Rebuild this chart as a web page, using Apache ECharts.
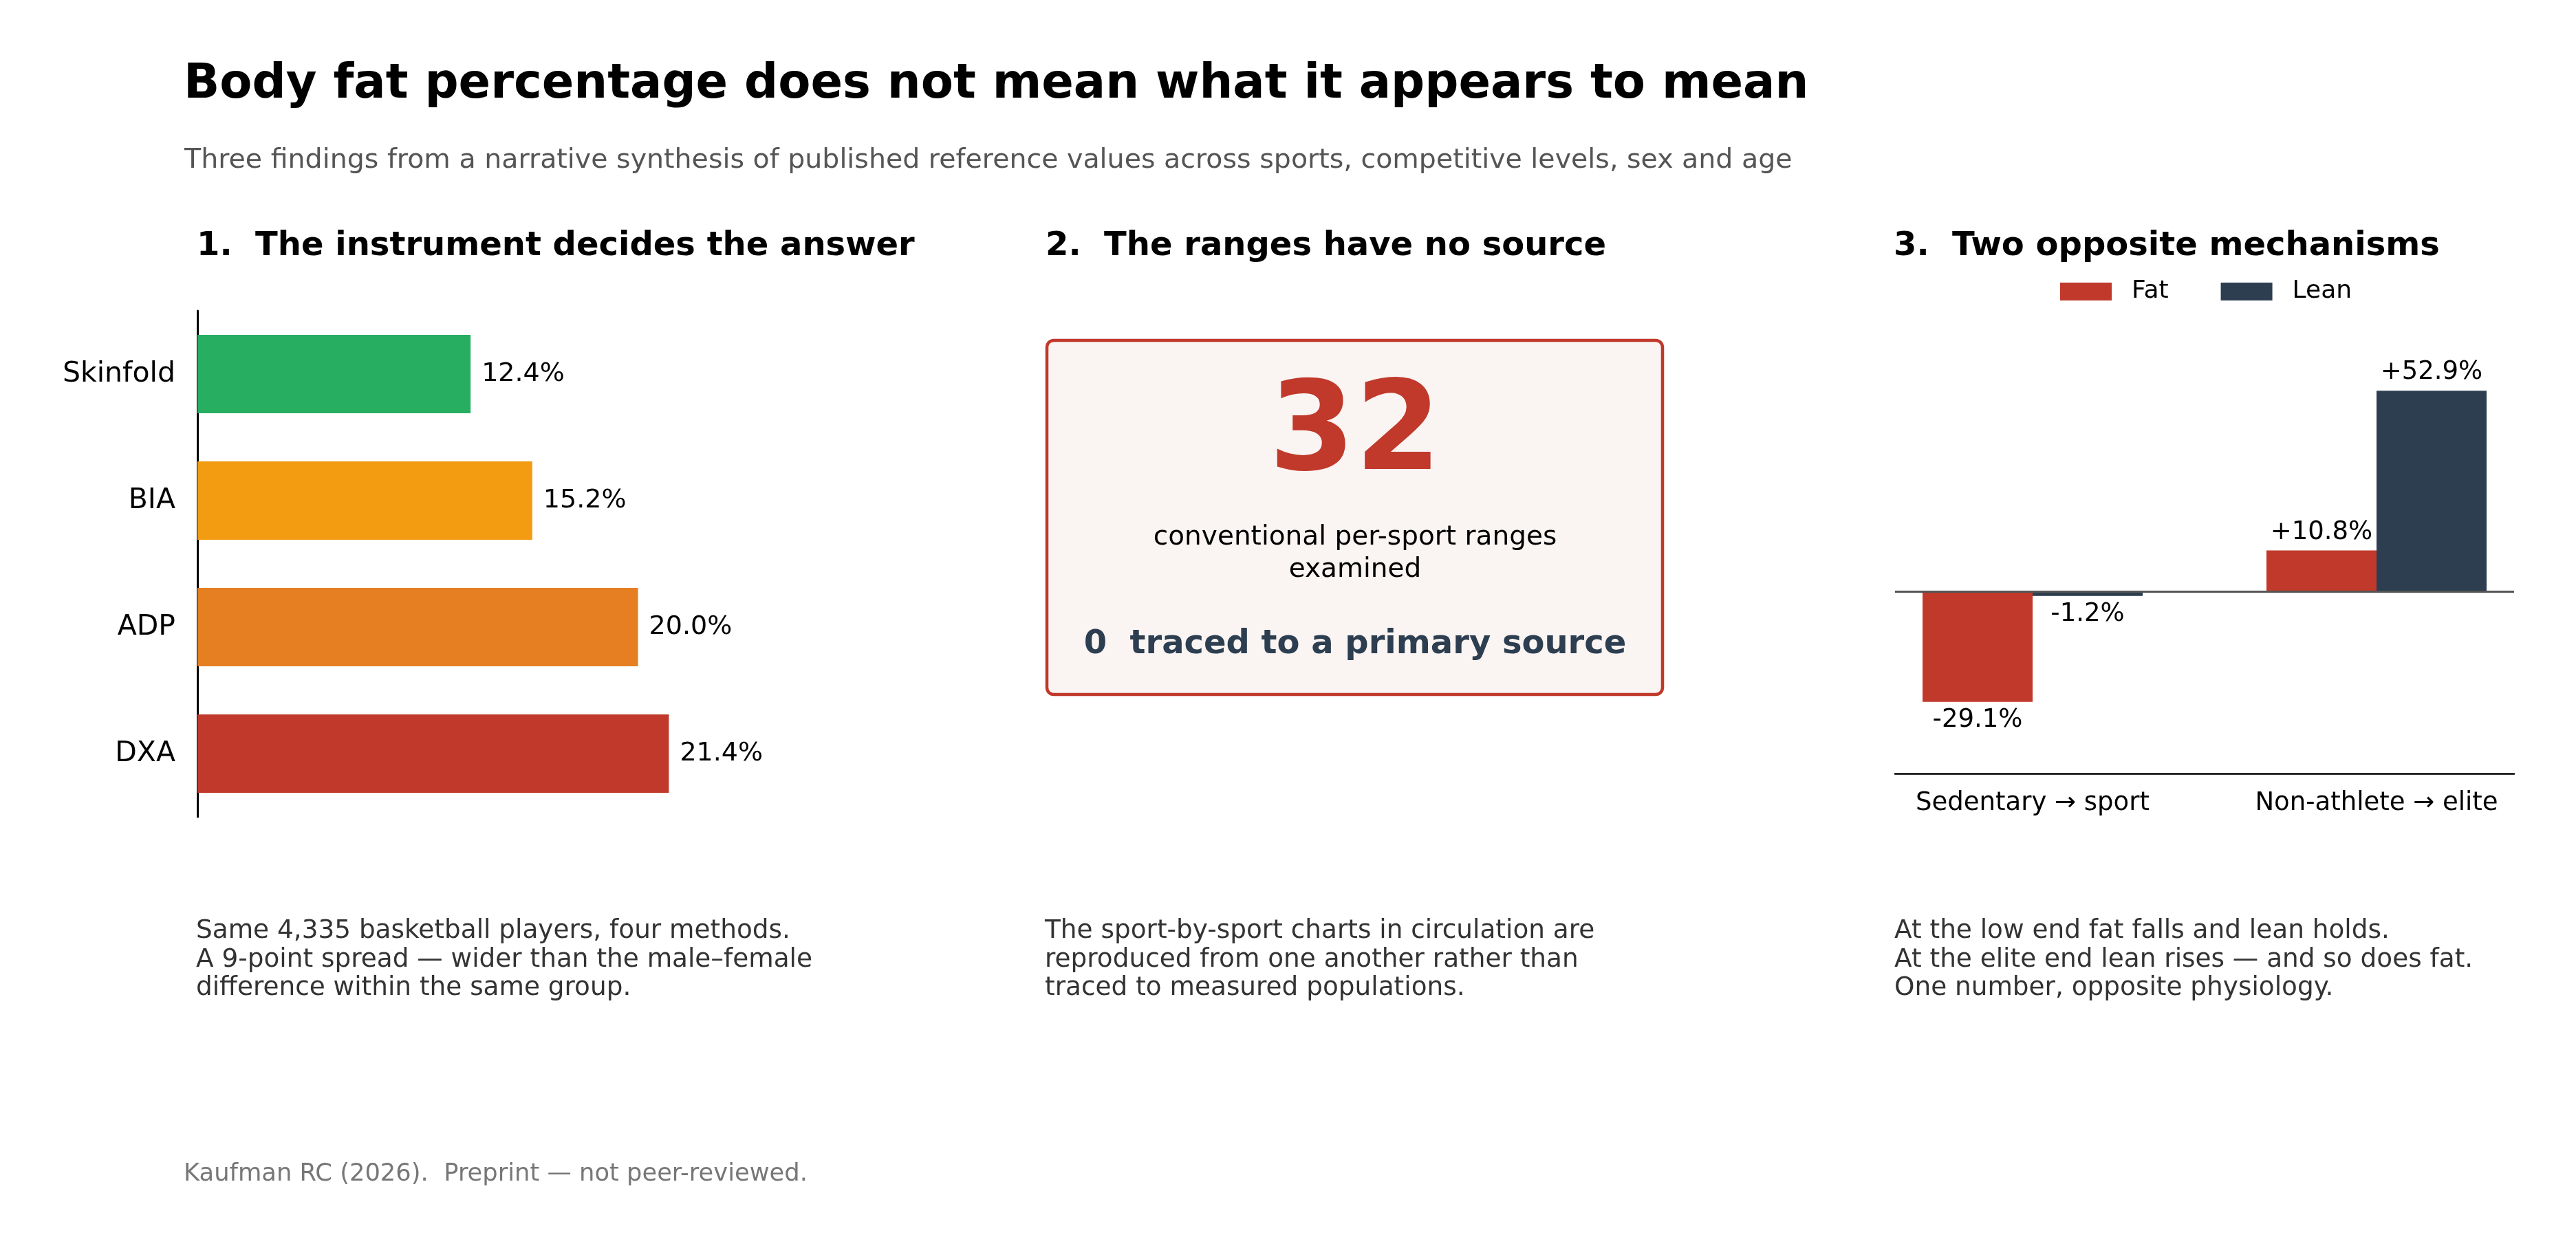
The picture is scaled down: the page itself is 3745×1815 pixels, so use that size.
<!DOCTYPE html>
<html>
<head>
<meta charset="utf-8">
<title>Body fat percentage</title>
<script src="https://cdn.jsdelivr.net/npm/echarts@6.0.0/dist/echarts.min.js"></script>
<style>
  html, body { margin: 0; padding: 0; background: #fff; }
  #main { width: 3745px; height: 1815px; }
</style>
</head>
<body>
<div id="main"></div>
<script>
// panel 1 - same players, four instruments
var methods = ['Skinfold', 'BIA', 'ADP', 'DXA'];
var methodFat = [12.4, 15.2, 20.0, 21.4];
var methodColors = ['#27ae60', '#f39c12', '#e67e22', '#c0392b'];

// panel 2 - provenance of the per-sport ranges
var rangesExamined = 32;
var rangesTraced = 0;

// panel 3 - change in fat and lean mass
var transitions = ['Sedentary → sport', 'Non-athlete → elite'];
var fatChange = [-29.1, 10.8];
var leanChange = [-1.2, 52.9];

var FONT = '"DejaVu Sans", sans-serif';
var RED = '#c0392b';
var NAVY = '#2c3e50';

function pct(v) {
  return (v > 0 ? '+' : '') + v.toFixed(1) + '%';
}

// bars on a value axis so group centres sit at x = 0 and 1
function changeData(arr) {
  return arr.map(function (v, i) {
    return { value: [i, v], label: { position: v < 0 ? 'bottom' : 'top' } };
  });
}

function txt(x, y, text, size, opts) {
  opts = opts || {};
  return {
    type: 'text', x: x, y: y, silent: true,
    style: {
      text: text,
      fontFamily: FONT,
      fontSize: size,
      fontWeight: opts.bold ? 'bold' : 'normal',
      fill: opts.color || '#000',
      align: opts.align || 'left',
      verticalAlign: opts.va || 'middle',
      lineHeight: opts.lh
    }
  };
}

var chart = echarts.init(document.getElementById('main'), null, { renderer: 'canvas' });

chart.setOption({
  animation: false,
  backgroundColor: '#fff',
  textStyle: { fontFamily: FONT },
  grid: [
    { left: 287, top: 452, width: 900, height: 736 },
    { left: 2755, top: 529, width: 900, height: 596 }
  ],
  xAxis: [
    { type: 'value', gridIndex: 0, min: 0, max: 28.1, show: false },
    {
      type: 'value', gridIndex: 1, min: -0.4, max: 1.4,
      axisLine: { show: true, onZero: false, lineStyle: { color: '#000', width: 2.6 } },
      axisTick: { show: false },
      splitLine: { show: false },
      axisLabel: {
        customValues: [0, 1],
        formatter: function (v) { return transitions[Math.round(v)]; },
        fontSize: 37, color: '#000', margin: 25, fontFamily: FONT
      }
    }
  ],
  yAxis: [
    {
      type: 'category', gridIndex: 0, data: methods, inverse: true,
      axisLine: { lineStyle: { color: '#000', width: 3 } },
      axisTick: { alignWithLabel: true, length: 13, lineStyle: { color: '#000', width: 2.8 } },
      axisLabel: { fontSize: 41, color: '#000', margin: 32, fontFamily: FONT },
      splitLine: { show: false }
    },
    { type: 'value', gridIndex: 1, min: -48, max: 60, show: false }
  ],
  legend: {
    data: ['Fat', 'Lean'],
    left: 2990, top: 401,
    icon: 'rect', itemWidth: 75, itemHeight: 26, itemGap: 76,
    selectedMode: false,
    textStyle: { fontSize: 36, color: '#000', fontFamily: FONT, padding: [0, 0, 0, 24] }
  },
  series: [
    {
      type: 'bar', xAxisIndex: 0, yAxisIndex: 0,
      barWidth: '62%',
      data: methodFat.map(function (v, i) {
        return { value: v, itemStyle: { color: methodColors[i] } };
      }),
      label: {
        show: true, position: 'right', distance: 16,
        fontSize: 38, color: '#000', fontFamily: FONT,
        formatter: function (p) { return p.value.toFixed(1) + '%'; }
      }
    },
    {
      name: 'Fat', type: 'bar', xAxisIndex: 1, yAxisIndex: 1,
      barWidth: '32%', barGap: '0%',
      itemStyle: { color: RED },
      data: changeData(fatChange),
      label: {
        show: true, distance: 8, fontSize: 37, color: '#000', fontFamily: FONT,
        formatter: function (p) { return pct(p.value[1]); }
      },
      markLine: {
        silent: true, symbol: 'none', z: 10,
        label: { show: false },
        lineStyle: { color: '#555', width: 3, type: 'solid' },
        data: [{ yAxis: 0 }]
      }
    },
    {
      name: 'Lean', type: 'bar', xAxisIndex: 1, yAxisIndex: 1,
      barWidth: '32%', barGap: '0%',
      itemStyle: { color: NAVY },
      data: changeData(leanChange),
      label: {
        show: true, distance: 8, fontSize: 37, color: '#000', fontFamily: FONT,
        formatter: function (p) { return pct(p.value[1]); }
      }
    }
  ],
  graphic: [
    txt(267, 124, 'Body fat percentage does not mean what it appears to mean', 68.7, { bold: true }),
    txt(268, 234, 'Three findings from a narrative synthesis of published reference values across sports, competitive levels, sex and age', 39.5, { color: '#555' }),

    txt(286, 359, '1.  The instrument decides the answer', 48, { bold: true }),
    txt(1520, 359, '2.  The ranges have no source', 48, { bold: true }),
    txt(2753, 359, '3.  Two opposite mechanisms', 48, { bold: true }),

    // panel 2 call-out box
    {
      type: 'rect', silent: true,
      shape: { x: 1522, y: 495, width: 895, height: 515, r: 10 },
      style: { fill: '#faf4f2', stroke: RED, lineWidth: 4.5 }
    },
    txt(1970, 635, String(rangesExamined), 180, { bold: true, color: RED, align: 'center' }),
    txt(1970, 758, 'conventional per-sport ranges\nexamined', 39, { align: 'center', va: 'top', lh: 47 }),
    txt(1970, 938, rangesTraced + '  traced to a primary source', 48, { bold: true, color: NAVY, align: 'center' }),

    // notes under each panel
    txt(285, 1334, 'Same 4,335 basketball players, four methods.\nA 9-point spread \u2014 wider than the male\u2013female\ndifference within the same group.', 37.4, { color: '#333', va: 'top', lh: 41.5 }),
    txt(1519, 1334, 'The sport-by-sport charts in circulation are\nreproduced from one another rather than\ntraced to measured populations.', 37.4, { color: '#333', va: 'top', lh: 41.5 }),
    txt(2754, 1334, 'At the low end fat falls and lean holds.\nAt the elite end lean rises \u2014 and so does fat.\nOne number, opposite physiology.', 37.4, { color: '#333', va: 'top', lh: 41.5 }),

    txt(267, 1708, 'Kaufman RC (2026).  Preprint \u2014 not peer-reviewed.', 35.3, { color: '#777' })
  ]
});
</script>
</body>
</html>
